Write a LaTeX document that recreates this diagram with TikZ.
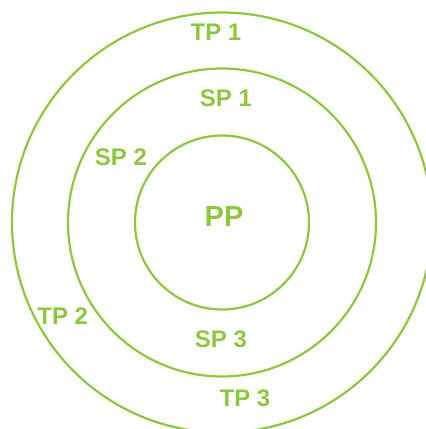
\documentclass[tikz,border=0pt]{standalone}
\usepackage{fontspec}
\setmainfont{Liberation Sans}
\usepackage{xcolor}
\usepackage{tikz}
\definecolor{anillo}{RGB}{141,198,63}

\begin{document}
\begin{tikzpicture}[x=1pt, y=1pt, line width=2.2pt,
    etiq/.style={anillo,font=\fontsize{24}{24}\selectfont\bfseries,inner sep=0pt}]
    \useasboundingbox (0,0) rectangle (426,429);
    \clip (0,0) rectangle (426,429);
    \coordinate (c) at (222,206.5);
    % anillos
    \draw[anillo] (c) circle (87);
    \draw[anillo] (c) circle (154);
    \draw[anillo] (c) circle (210);
    % etiquetas
    \node[etiq,font=\fontsize{29}{29}\selectfont\bfseries] (pp) at (224,212.5) {PP};
    \node[etiq] (sp1) at (226,330.7) {SP 1};
    \node[etiq] (sp2) at (121,271.7) {SP 2};
    \node[etiq] (sp3) at (221,89.5) {SP 3};
    \node[etiq] (tp1) at (216,396.7) {TP 1};
    \node[etiq] (tp2) at (62.7,113.2) {TP 2};
    \node[etiq] (tp3) at (245,31.2) {TP 3};
\end{tikzpicture}
\end{document}
